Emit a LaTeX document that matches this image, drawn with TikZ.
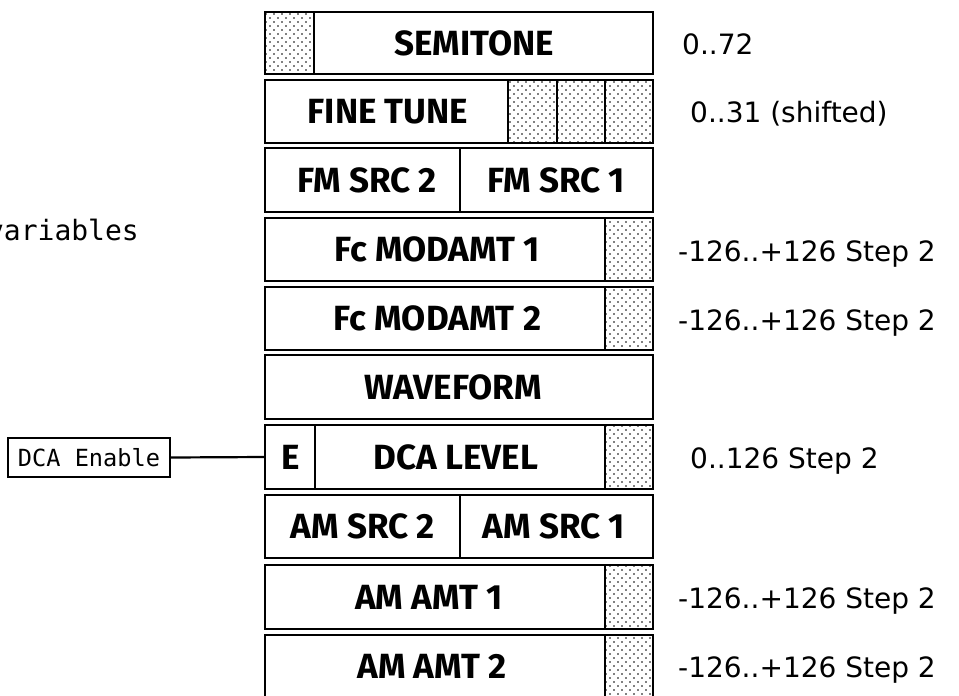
\documentclass[tikz,border=0pt]{standalone}
\usepackage{fontspec}
\setmainfont{DejaVu Sans}
\newfontfamily\monofont{DejaVu Sans Mono}
\newfontfamily\boxfont{Fira Sans}
\usetikzlibrary{patterns}
\pgfdeclarepatternformonly{stipple}{\pgfpoint{-1pt}{-1pt}}{\pgfpoint{9pt}{9pt}}{\pgfpoint{8pt}{8pt}}{%
  \pgfpathcircle{\pgfpoint{2pt}{2pt}}{0.95pt}%
  \pgfpathcircle{\pgfpoint{6pt}{6pt}}{0.95pt}%
  \pgfusepath{fill}}
\begin{document}
\begin{tikzpicture}[x=1pt,y=-1pt,
  rowbox/.style={draw, line width=2.6pt, rectangle, anchor=north west, inner sep=0pt, outer sep=0pt},
  cellbox/.style={draw, line width=2.2pt, rectangle, anchor=north west, inner sep=0pt, outer sep=0pt},
  dotcell/.style={cellbox, pattern=stipple},
  lbl/.style={font=\boxfont\bfseries\fontsize{35}{35}\selectfont, anchor=base, inner sep=0pt},
  rng/.style={font=\fontsize{28}{28}\selectfont, anchor=base west, inner sep=0pt},
  mono/.style={font=\monofont\fontsize{23.6}{23.6}\selectfont}]
\useasboundingbox (0,0) rectangle (959,696);

% row 1 SEMITONE
\node[rowbox, minimum width=388pt, minimum height=62pt] (r1) at (265,12) {};
\node[dotcell, minimum width=49pt, minimum height=62pt] (r1s) at (265,12) {};
\node[lbl] (t1) at (474,55) {SEMITONE};
\node[rng] (v1) at (682,54) {0..72};

% row 2 FINE TUNE
\node[rowbox, minimum width=388pt, minimum height=63pt] (r2) at (265,80) {};
\node[dotcell, minimum width=49pt, minimum height=63pt] (r2a) at (508,80) {};
\node[dotcell, minimum width=48pt, minimum height=63pt] (r2b) at (557,80) {};
\node[dotcell, minimum width=48pt, minimum height=63pt] (r2c) at (605,80) {};
\node[lbl] (t2) at (388,123.5) {FINE TUNE};
\node[rng] (v2) at (690,122) {0..31 (shifted)};

% row 3 FM SRC
\node[rowbox, minimum width=195pt, minimum height=64pt] (r3a) at (265,148) {};
\node[rowbox, minimum width=193pt, minimum height=64pt] (r3b) at (460,148) {};
\node[lbl] (t3a) at (367,192) {FM SRC 2};
\node[lbl] (t3b) at (556,192) {FM SRC 1};

% row 4 Fc MODAMT 1
\node[rowbox, minimum width=388pt, minimum height=63pt] (r4) at (265,218) {};
\node[dotcell, minimum width=48pt, minimum height=63pt] (r4s) at (605,218) {};
\node[lbl] (t4) at (437,261.5) {Fc MODAMT 1};
\node[rng] (v4) at (678,261) {-126..+126 Step 2};

% row 5 Fc MODAMT 2
\node[rowbox, minimum width=388pt, minimum height=63pt] (r5) at (265,287) {};
\node[dotcell, minimum width=48pt, minimum height=63pt] (r5s) at (605,287) {};
\node[lbl] (t5) at (437.5,330.5) {Fc MODAMT 2};
\node[rng] (v5) at (678,330) {-126..+126 Step 2};

% row 6 WAVEFORM
\node[rowbox, minimum width=388pt, minimum height=64pt] (r6) at (265,355) {};
\node[lbl] (t6) at (453,399) {WAVEFORM};

% row 7 DCA LEVEL
\node[rowbox, minimum width=388pt, minimum height=64pt] (r7) at (265,425) {};
\node[cellbox, minimum width=50pt, minimum height=64pt] (r7e) at (265,425) {};
\node[dotcell, minimum width=48pt, minimum height=64pt] (r7s) at (605,425) {};
\node[lbl] (t7e) at (291,469) {E};
\node[lbl] (t7) at (456,469) {DCA LEVEL};
\node[rng] (v7) at (690,468) {0..126 Step 2};

% row 8 AM SRC
\node[rowbox, minimum width=195pt, minimum height=63pt] (r8a) at (265,495) {};
\node[rowbox, minimum width=193pt, minimum height=63pt] (r8b) at (460,495) {};
\node[lbl] (t8a) at (363,538.5) {AM SRC 2};
\node[lbl] (t8b) at (554,538.5) {AM SRC 1};

% row 9 AM AMT 1
\node[rowbox, minimum width=388pt, minimum height=64pt] (r9) at (265,565) {};
\node[dotcell, minimum width=48pt, minimum height=64pt] (r9s) at (605,565) {};
\node[lbl] (t9) at (429,609) {AM AMT 1};
\node[rng] (v9) at (678,608) {-126..+126 Step 2};

% row 10 AM AMT 2
\node[rowbox, minimum width=388pt, minimum height=63pt] (r10) at (265,635) {};
\node[dotcell, minimum width=48pt, minimum height=63pt] (r10s) at (605,635) {};
\node[lbl] (t10) at (432,678.5) {AM AMT 2};
\node[rng] (v10) at (678,677) {-126..+126 Step 2};

% left side
\node[mono, draw, line width=2.2pt, minimum width=162pt, minimum height=39pt, inner sep=0pt] (dca) at (89,457.5) {DCA Enable};
\draw[line width=2.2pt] (dca.east) -- (r7e.west);
\node[font=\monofont\fontsize{28}{28}\selectfont, anchor=base east, inner sep=0pt] (var) at (139,240) {variables};
\end{tikzpicture}
\end{document}
